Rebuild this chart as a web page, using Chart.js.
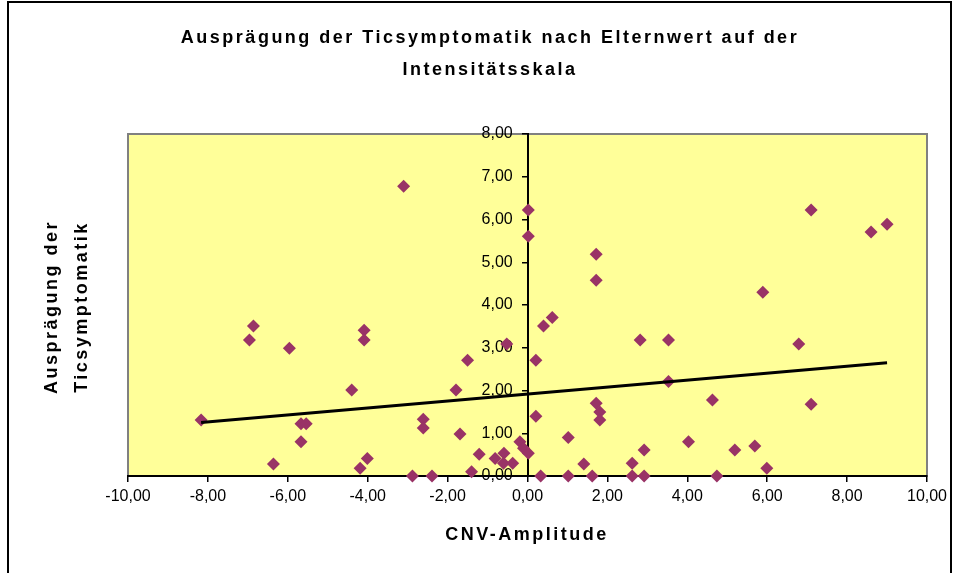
<!DOCTYPE html>
<html>
<head>
<meta charset="utf-8">
<script src="https://cdn.jsdelivr.net/npm/chart.js@4"></script>
<style>
  html, body { margin: 0; padding: 0; background: #fff; }
  #wrap { width: 961px; height: 573px; }
</style>
</head>
<body>
<div id="wrap"><canvas id="ticChart" width="961" height="573"></canvas></div>
<script>
// values
const cnvAmplitude = [-8.17, -6.96, -6.86, -6.36, -5.96, -5.67, -5.54, -5.67, -4.40, -4.19,
    -4.09, -4.09, -4.01, -3.10, -2.88, -2.61, -2.61, -2.39, -1.79, -1.69,
    -1.50, -1.40, -1.21, -0.81, -0.59, -0.60, -0.37, -0.52, -0.19, -0.10,
    0.02, 0.02, 0.02, 0.21, 0.21, 0.33, 0.40, 0.62, 1.02, 1.02,
    1.41, 1.62, 1.72, 1.72, 1.72, 1.81, 1.81, 2.62, 2.62, 2.82,
    2.92, 2.92, 3.53, 3.53, 4.03, 4.63, 4.74, 5.19, 5.69, 5.89,
    5.99, 6.79, 7.10, 7.10, 8.60, 9.00];
const ticScore = [1.31, 3.18, 3.51, 0.28, 2.99, 1.22, 1.22, 0.80, 2.01, 0.18,
    3.41, 3.18, 0.41, 6.78, 0.00, 1.33, 1.12, 0.00, 2.01, 0.98,
    2.71, 0.10, 0.51, 0.41, 0.53, 0.30, 0.30, 3.09, 0.80, 0.65,
    0.53, 6.22, 5.61, 2.71, 1.40, 0.00, 3.51, 3.71, 0.90, 0.00,
    0.28, 0.00, 5.19, 4.58, 1.70, 1.50, 1.31, 0.30, 0.00, 3.18,
    0.61, 0.00, 3.18, 2.21, 0.80, 1.78, 0.00, 0.61, 0.70, 4.30,
    0.18, 3.09, 6.22, 1.68, 5.71, 5.89];
const trendX = [-8.17, 9.00];
const trendY = [1.25, 2.65];
const xTicks = [-10, -8, -6, -4, -2, 0, 2, 4, 6, 8, 10];
const yTicks = [0, 1, 2, 3, 4, 5, 6, 7, 8];

const titleLines = ["Ausprägung der Ticsymptomatik nach Elternwert auf der", "Intensitätsskala"];
const yTitleLines = ["Ausprägung der", "Ticsymptomatik"];
const xTitle = "CNV-Amplitude";

const FONT = "'Liberation Sans', Arial, sans-serif";
const fmt = v => v.toFixed(2).replace(".", ",");

const points = cnvAmplitude.map((x, i) => ({ x: x, y: ticScore[i] }));
const trend = trendX.map((x, i) => ({ x: x, y: trendY[i] }));

const excelFrame = {
    id: "excelFrame",
    beforeDraw(chart) {
        const { ctx, chartArea: a } = chart;
        ctx.save();
        ctx.fillStyle = "#fff";
        ctx.fillRect(0, 0, chart.width, chart.height);
        ctx.strokeStyle = "#000";
        ctx.lineWidth = 2;
        ctx.strokeRect(8, 2, 943, 600);
        ctx.fillStyle = "#FFFF99";
        ctx.fillRect(a.left, a.top, a.right - a.left, a.bottom - a.top);
        ctx.strokeStyle = "#808080";
        ctx.lineWidth = 2;
        ctx.strokeRect(a.left, a.top, a.right - a.left, a.bottom - a.top);
        ctx.restore();
    },
    afterDraw(chart) {
        const ctx = chart.ctx;
        ctx.save();
        ctx.fillStyle = "#000";
        ctx.font = "bold 18px " + FONT;
        ctx.letterSpacing = "2.5px";
        ctx.textAlign = "center";
        ctx.textBaseline = "alphabetic";
        ctx.fillText(titleLines[0], 490, 43);
        ctx.fillText(titleLines[1], 490, 75);
        ctx.fillText(xTitle, 527, 540);
        ctx.translate(0, 307);
        ctx.rotate(-Math.PI / 2);
        ctx.fillText(yTitleLines[0], 0, 57);
        ctx.fillText(yTitleLines[1], 0, 87);
        ctx.restore();
    }
};

const tickFont = { family: FONT, size: 16 };

new Chart(document.getElementById("ticChart"), {
    type: "scatter",
    data: {
        datasets: [
            {
                label: "Ticsymptomatik",
                data: points,
                pointStyle: "rectRot",
                pointRadius: 6.5,
                pointHoverRadius: 6.5,
                backgroundColor: "#993366",
                borderColor: "#993366",
                borderWidth: 0,
                clip: false,
                order: 1
            },
            {
                label: "Trend",
                type: "line",
                data: trend,
                borderColor: "#000",
                borderWidth: 3,
                pointRadius: 0,
                fill: false,
                order: 0
            }
        ]
    },
    options: {
        responsive: false,
        animation: false,
        events: [],
        layout: { padding: { left: 128, right: 34, top: 134, bottom: 67 } },
        plugins: { legend: { display: false }, title: { display: false }, tooltip: { enabled: false } },
        scales: {
            x: {
                type: "linear",
                position: "bottom",
                min: -10, max: 10,
                afterBuildTicks: s => { s.ticks = xTicks.map(v => ({ value: v })); },
                afterFit: s => { s.height = 30; },
                ticks: { callback: fmt, color: "#000", font: tickFont, padding: 5, maxRotation: 0, autoSkip: false },
                grid: { display: true, drawOnChartArea: false, drawTicks: true, tickLength: 6, color: "#000", lineWidth: 1.5 },
                border: { display: true, color: "#000", width: 2 }
            },
            // axis line and tick marks at x = 0
            y: {
                type: "linear",
                position: { x: 0 },
                min: 0, max: 8,
                afterBuildTicks: s => { s.ticks = yTicks.map(v => ({ value: v })); },
                ticks: { display: false },
                grid: { display: true, drawOnChartArea: false, drawTicks: true, tickLength: 5, color: "#000", lineWidth: 1.5 },
                border: { display: true, color: "#000", width: 2 }
            },
            // tick labels, set a little left of the axis line
            yLabels: {
                type: "linear",
                axis: "y",
                position: { x: -0.37 },
                min: 0, max: 8,
                afterBuildTicks: s => { s.ticks = yTicks.map(v => ({ value: v })); },
                ticks: { callback: fmt, color: "#000", font: tickFont, autoSkip: false },
                grid: { display: false },
                border: { display: false }
            }
        }
    },
    plugins: [excelFrame]
});
</script>
</body>
</html>
